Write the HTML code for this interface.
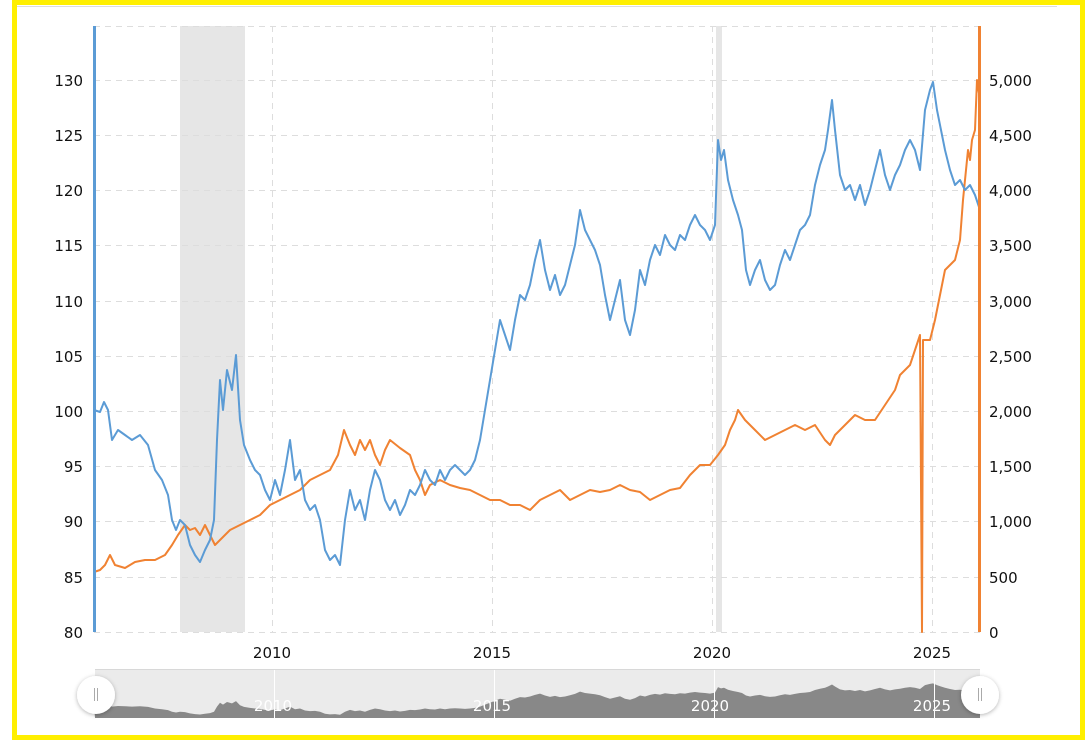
<!DOCTYPE html>
<html><head><meta charset="utf-8"><style>
html,body{margin:0;padding:0;background:#fff;}
svg{display:block;font-family:"DejaVu Sans","Liberation Sans",sans-serif;}
</style></head><body>
<svg width="1090" height="740" viewBox="0 0 1090 740" xmlns="http://www.w3.org/2000/svg">
<rect x="0" y="0" width="1090" height="740" fill="#fff"/>
<line x1="14" y1="6.5" x2="1057" y2="6.5" stroke="#ddd"/>
<!-- recessions -->
<rect x="180" y="26" width="65" height="606" fill="#e6e6e6"/>
<rect x="716" y="26" width="6" height="606" fill="#e6e6e6"/>
<!-- grid -->
<g stroke="#ddd" stroke-dasharray="6,5" stroke-width="1">
<line x1="94" y1="26.5" x2="980" y2="26.5"/>
<line x1="94" y1="80.5" x2="980" y2="80.5"/>
<line x1="94" y1="135.5" x2="980" y2="135.5"/>
<line x1="94" y1="190.5" x2="980" y2="190.5"/>
<line x1="94" y1="245.5" x2="980" y2="245.5"/>
<line x1="94" y1="301.5" x2="980" y2="301.5"/>
<line x1="94" y1="356.5" x2="980" y2="356.5"/>
<line x1="94" y1="411.5" x2="980" y2="411.5"/>
<line x1="94" y1="466.5" x2="980" y2="466.5"/>
<line x1="94" y1="521.5" x2="980" y2="521.5"/>
<line x1="94" y1="577.5" x2="980" y2="577.5"/>
<line x1="94" y1="632.5" x2="980" y2="632.5"/>
<line x1="272.5" y1="26" x2="272.5" y2="632"/>
<line x1="492.5" y1="26" x2="492.5" y2="632"/>
<line x1="712.5" y1="26" x2="712.5" y2="632"/>
<line x1="932.5" y1="26" x2="932.5" y2="632"/>
</g>
<!-- left labels -->
<g font-size="15" fill="#111" text-anchor="end">
<text x="83" y="86">130</text><text x="83" y="141">125</text><text x="83" y="196">120</text>
<text x="83" y="251">115</text><text x="83" y="307">110</text><text x="83" y="362">105</text>
<text x="83" y="417">100</text><text x="83" y="472">95</text><text x="83" y="527">90</text>
<text x="83" y="583">85</text><text x="83" y="638">80</text>
</g>
<g font-size="15" fill="#111" text-anchor="start">
<text x="989" y="86">5,000</text><text x="989" y="141">4,500</text><text x="989" y="196">4,000</text>
<text x="989" y="251">3,500</text><text x="989" y="307">3,000</text><text x="989" y="362">2,500</text>
<text x="989" y="417">2,000</text><text x="989" y="472">1,500</text><text x="989" y="527">1,000</text>
<text x="989" y="583">500</text><text x="989" y="638">0</text>
</g>
<g font-size="15" fill="#111" text-anchor="middle">
<text x="272" y="658">2010</text><text x="492" y="658">2015</text><text x="712" y="658">2020</text><text x="932" y="658">2025</text>
</g>
<!-- orange series -->
<polyline fill="none" stroke="#f08232" stroke-width="2" stroke-linejoin="round" points="94,572 100,570 105,565 110,555 115,565 125,568 135,562 145,560 155,560 165,555 172,545 178,535 185,525 190,530 195,528 200,535 205,525 210,535 215,545 220,540 225,535 230,530 240,525 250,520 260,515 265,510 270,505 280,500 290,495 300,490 310,480 320,475 330,470 338,455 344,430 350,445 355,455 360,440 365,450 370,440 375,455 380,465 385,450 390,440 400,448 410,455 415,470 420,480 425,495 430,485 440,480 450,485 460,488 470,490 480,495 490,500 500,500 510,505 520,505 530,510 540,500 550,495 560,490 570,500 580,495 590,490 600,492 610,490 620,485 630,490 640,492 650,500 660,495 670,490 680,488 690,475 700,465 710,465 718,455 725,445 730,430 735,420 738,410 745,420 755,430 765,440 775,435 785,430 795,425 805,430 815,425 825,440 830,445 835,435 845,425 855,415 865,420 875,420 885,405 895,390 900,375 905,370 910,365 915,350 920,335 922,632 923,340 930,340 935,320 940,295 945,270 950,265 955,260 960,240 963,200 966,170 968,150 970,160 972,140 975,130 977,80 980,100"/>
<!-- blue series -->
<polyline fill="none" stroke="#5b9bd5" stroke-width="2" stroke-linejoin="round" points="94,410 100,412 104,402 108,410 112,440 118,430 125,435 132,440 140,435 148,445 155,470 162,480 168,495 172,520 176,530 180,520 185,525 190,545 195,555 200,562 205,550 210,540 214,520 217,440 220,380 223,410 227,370 232,390 236,355 240,420 244,445 250,460 255,470 260,475 265,490 270,500 275,480 280,495 285,470 290,440 295,480 300,470 305,500 310,510 315,505 320,520 325,550 330,560 335,555 340,565 345,520 350,490 355,510 360,500 365,520 370,490 375,470 380,480 385,500 390,510 395,500 400,515 405,505 410,490 415,495 420,485 425,470 430,480 435,485 440,470 445,480 450,470 455,465 460,470 465,475 470,470 475,460 480,440 485,410 490,380 495,350 500,320 505,335 510,350 515,320 520,295 525,300 530,285 535,260 540,240 545,270 550,290 555,275 560,295 565,285 570,265 575,245 580,210 585,230 590,240 595,250 600,265 605,295 610,320 615,300 620,280 625,320 630,335 635,310 640,270 645,285 650,260 655,245 660,255 665,235 670,245 675,250 680,235 685,240 690,225 695,215 700,225 705,230 710,240 715,225 718,140 721,160 724,150 728,180 733,200 738,215 742,230 746,270 750,285 755,270 760,260 765,280 770,290 775,285 780,265 785,250 790,260 795,245 800,230 805,225 810,215 815,185 820,165 825,150 828,130 832,100 835,130 840,175 845,190 850,185 855,200 860,185 865,205 870,190 875,170 880,150 885,175 890,190 895,175 900,165 905,150 910,140 915,150 920,170 925,110 930,90 933,82 937,110 941,130 945,150 950,170 955,185 960,180 965,190 970,185 975,195 980,210"/>
<!-- axis lines -->
<rect x="93" y="26" width="3" height="606" fill="#5b9bd5"/>
<rect x="978" y="26" width="3" height="606" fill="#f08232"/>
<!-- navigator -->
<rect x="95" y="669" width="885" height="49" fill="#ebebeb"/>
<line x1="95" y1="669.5" x2="980" y2="669.5" stroke="#d8d8d8"/>
<g transform="translate(0,678) scale(1,0.065)">
<polygon fill="#888" points="95,615 94,410 100,412 104,402 108,410 112,440 118,430 125,435 132,440 140,435 148,445 155,470 162,480 168,495 172,520 176,530 180,520 185,525 190,545 195,555 200,562 205,550 210,540 214,520 217,440 220,380 223,410 227,370 232,390 236,355 240,420 244,445 250,460 255,470 260,475 265,490 270,500 275,480 280,495 285,470 290,440 295,480 300,470 305,500 310,510 315,505 320,520 325,550 330,560 335,555 340,565 345,520 350,490 355,510 360,500 365,520 370,490 375,470 380,480 385,500 390,510 395,500 400,515 405,505 410,490 415,495 420,485 425,470 430,480 435,485 440,470 445,480 450,470 455,465 460,470 465,475 470,470 475,460 480,440 485,410 490,380 495,350 500,320 505,335 510,350 515,320 520,295 525,300 530,285 535,260 540,240 545,270 550,290 555,275 560,295 565,285 570,265 575,245 580,210 585,230 590,240 595,250 600,265 605,295 610,320 615,300 620,280 625,320 630,335 635,310 640,270 645,285 650,260 655,245 660,255 665,235 670,245 675,250 680,235 685,240 690,225 695,215 700,225 705,230 710,240 715,225 718,140 721,160 724,150 728,180 733,200 738,215 742,230 746,270 750,285 755,270 760,260 765,280 770,290 775,285 780,265 785,250 790,260 795,245 800,230 805,225 810,215 815,185 820,165 825,150 828,130 832,100 835,130 840,175 845,190 850,185 855,200 860,185 865,205 870,190 875,170 880,150 885,175 890,190 895,175 900,165 905,150 910,140 915,150 920,170 925,110 930,90 933,82 937,110 941,130 945,150 950,170 955,185 960,180 965,190 970,185 975,195 980,210 980,615"/>
</g>
<g stroke="#fff" stroke-width="1"><line x1="274.5" y1="670" x2="274.5" y2="718"/><line x1="494.5" y1="670" x2="494.5" y2="718"/><line x1="714.5" y1="670" x2="714.5" y2="718"/><line x1="934.5" y1="670" x2="934.5" y2="718"/></g>
<g font-size="15" fill="#fff" text-anchor="middle">
<text x="273" y="711">2010</text><text x="492" y="711">2015</text><text x="710" y="711">2020</text><text x="932" y="711">2025</text>
</g>
<defs><filter id="sh" x="-50%" y="-50%" width="200%" height="200%"><feDropShadow dx="0" dy="1" stdDeviation="2" flood-color="#000" flood-opacity="0.3"/></filter></defs>
<circle cx="96" cy="695" r="19" fill="#fff" filter="url(#sh)"/>
<line x1="94.5" y1="688" x2="94.5" y2="701" stroke="#aaa"/><line x1="97.5" y1="688" x2="97.5" y2="701" stroke="#aaa"/>
<circle cx="980" cy="695" r="19" fill="#fff" filter="url(#sh)"/>
<line x1="978.5" y1="688" x2="978.5" y2="701" stroke="#aaa"/><line x1="981.5" y1="688" x2="981.5" y2="701" stroke="#aaa"/>
<!-- yellow frame -->
<rect x="14.5" y="2.5" width="1068" height="735" fill="none" stroke="#ffef00" stroke-width="5"/>
</svg>
</body></html>
